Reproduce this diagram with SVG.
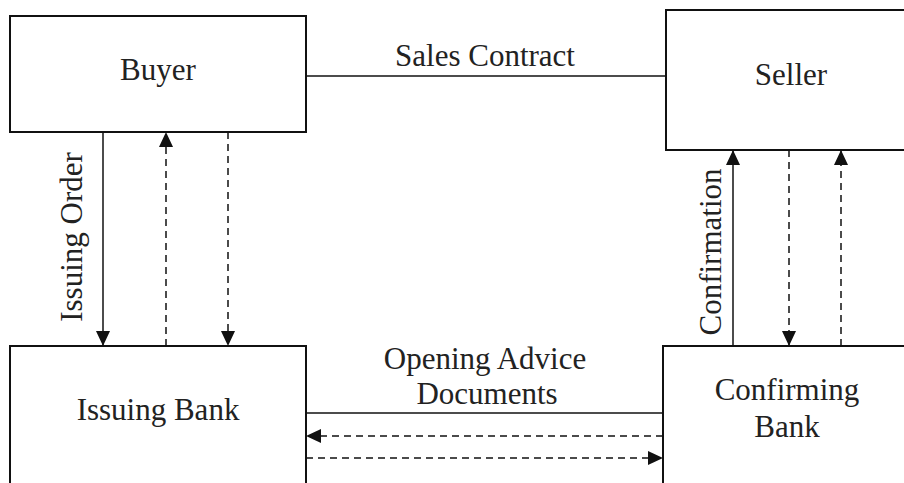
<svg xmlns="http://www.w3.org/2000/svg" width="904" height="483" viewBox="0 0 904 483">
<defs>
<marker id="ah" markerUnits="userSpaceOnUse" markerWidth="15" markerHeight="14" refX="15" refY="7" orient="auto">
<path d="M0,0 L15,7 L0,14 z" fill="#111"/>
</marker>
<style>
.box{fill:#fff;stroke:#111;stroke-width:2}
.t{font-family:"Liberation Serif","Times New Roman",serif;font-size:31px;fill:#222;text-anchor:middle}
.s{stroke:#111;stroke-width:1.5;fill:none}
.d{stroke:#111;stroke-width:1.5;fill:none;stroke-dasharray:7 5}
.a{marker-end:url(#ah)}
</style>
</defs>
<rect width="904" height="483" fill="#fff"/>
<g id="buyer">
<rect class="box" x="10" y="16" width="296" height="116"/>
<text class="t" x="158" y="80">Buyer</text>
</g>
<g id="seller">
<rect class="box" x="666" y="10" width="252" height="140"/>
<text class="t" x="791" y="85">Seller</text>
</g>
<g id="issuing-bank">
<rect class="box" x="10" y="346" width="296" height="150"/>
<text class="t" x="158" y="420">Issuing Bank</text>
</g>
<g id="confirming-bank">
<rect class="box" x="663" y="346" width="255" height="150"/>
<text class="t" x="787" y="400">Confirming</text>
<text class="t" x="787" y="437">Bank</text>
</g>
<g id="connectors">
<line class="s" x1="306" y1="76" x2="666" y2="76"/>
<text class="t" x="485" y="66">Sales Contract</text>
<line class="s a" x1="103" y1="132" x2="103" y2="346"/>
<text class="t" transform="translate(82 237) rotate(-90)">Issuing Order</text>
<line class="d a" x1="166" y1="346" x2="166" y2="132"/>
<line class="d a" x1="228" y1="132" x2="228" y2="346"/>
<line class="s a" x1="733" y1="346" x2="733" y2="150"/>
<text class="t" transform="translate(721 252) rotate(-90)">Confirmation</text>
<line class="d a" x1="789" y1="150" x2="789" y2="346"/>
<line class="d a" x1="841" y1="346" x2="841" y2="150"/>
<line class="s" x1="306" y1="413" x2="663" y2="413"/>
<text class="t" x="485" y="369">Opening Advice</text>
<text class="t" x="487" y="404">Documents</text>
<line class="d a" x1="663" y1="436" x2="306" y2="436"/>
<line class="d a" x1="306" y1="458" x2="663" y2="458"/>
</g>
</svg>
